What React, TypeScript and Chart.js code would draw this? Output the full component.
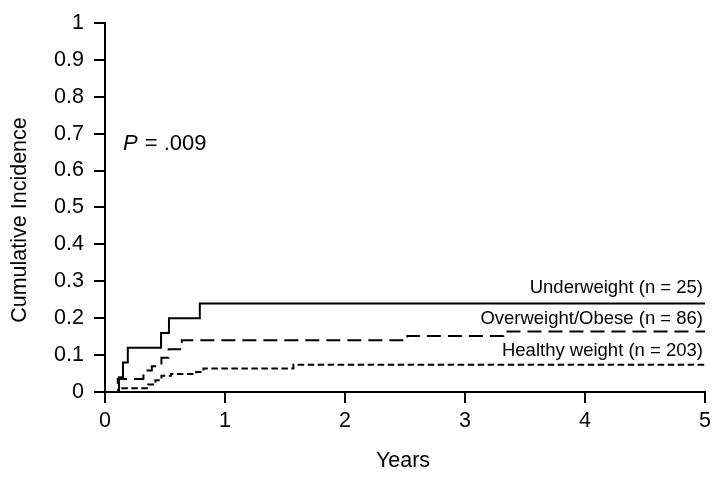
import React, { useEffect, useRef } from "react";
import { Chart, registerables } from "chart.js";

Chart.register(...registerables);

const underweightTimes = [0, 0.117, 0.15, 0.19, 0.467, 0.533, 0.79, 5];
const underweightValues = [0, 0.04, 0.08, 0.12, 0.16, 0.2, 0.24, 0.24];

const overweightTimes = [0, 0.106, 0.32, 0.39, 0.47, 0.53, 0.64, 2.52, 3.32, 5];
const overweightValues = [0, 0.035, 0.058, 0.07, 0.093, 0.116, 0.14, 0.152, 0.164, 0.164];

const healthyTimes = [0, 0.11, 0.36, 0.42, 0.47, 0.55, 0.76, 0.82, 1.57, 5];
const healthyValues = [0, 0.01, 0.02, 0.032, 0.044, 0.049, 0.054, 0.064, 0.074, 0.074];

const seriesLabels = ["Underweight (n = 25)", "Overweight/Obese (n = 86)", "Healthy weight (n = 203)"];
const xTickValues = [0, 1, 2, 3, 4, 5];
const yTickValues = [0, 0.1, 0.2, 0.3, 0.4, 0.5, 0.6, 0.7, 0.8, 0.9, 1];
const xTitle = "Years";
const yTitle = "Cumulative Incidence";
const pValueText = ".009";

const FONT = "'Liberation Sans', Arial, sans-serif";

function toPoints(xs: number[], ys: number[]) {
  return xs.map((x, i) => ({ x, y: ys[i] }));
}

const annotationPlugin = {
  id: "kmAnnotations",
  afterDraw(chart: any) {
    const ctx = chart.ctx;
    const xs = chart.scales.x;
    const ys = chart.scales.y;
    ctx.save();
    ctx.fillStyle = "#000";
    // axis titles
    ctx.font = `21.5px ${FONT}`;
    ctx.textAlign = "center";
    ctx.textBaseline = "middle";
    ctx.fillText(xTitle, (xs.left + xs.right) / 2 - 2, 461);
    ctx.save();
    ctx.translate(20, 220);
    ctx.rotate(-Math.PI / 2);
    ctx.fillText(yTitle, 0, 0);
    ctx.restore();

    // P value
    ctx.textAlign = "left";
    ctx.textBaseline = "alphabetic";
    const px = xs.getPixelForValue(0.15);
    const py = ys.getPixelForValue(0.667) + 4;
    ctx.font = `italic 22px ${FONT}`;
    ctx.fillText("P", px, py);
    const pw = ctx.measureText("P").width;
    ctx.font = `22px ${FONT}`;
    ctx.fillText(" = " + pValueText, px + pw + 1, py);

    // series labels
    ctx.font = `18.5px ${FONT}`;
    ctx.textAlign = "right";
    const rx = xs.getPixelForValue(5) - 2;
    const finals = [
      underweightValues[underweightValues.length - 1],
      overweightValues[overweightValues.length - 1],
      healthyValues[healthyValues.length - 1],
    ];
    const gaps = [10, 7, 9];
    seriesLabels.forEach((lab, i) => {
      ctx.fillText(lab, rx, ys.getPixelForValue(finals[i]) - gaps[i]);
    });
    ctx.restore();
  },
};

export default function App() {
  const canvasRef = useRef<HTMLCanvasElement | null>(null);

  useEffect(() => {
    if (!canvasRef.current) return;
    const chart = new Chart(canvasRef.current, {
      type: "line",
      data: {
        datasets: [
          {
            label: seriesLabels[0],
            data: toPoints(underweightTimes, underweightValues),
            borderColor: "#000",
            borderWidth: 2,
            stepped: "before",
            pointRadius: 0,
            fill: false,
          },
          {
            label: seriesLabels[1],
            data: toPoints(overweightTimes, overweightValues),
            borderColor: "#000",
            borderWidth: 2,
            borderDash: [14, 7],
            stepped: "before",
            pointRadius: 0,
            fill: false,
          },
          {
            label: seriesLabels[2],
            data: toPoints(healthyTimes, healthyValues),
            borderColor: "#000",
            borderWidth: 2,
            borderDash: [6.5, 3.5],
            stepped: "before",
            pointRadius: 0,
            fill: false,
          },
        ],
      },
      options: {
        animation: false,
        responsive: true,
        maintainAspectRatio: false,
        layout: { padding: { top: 17, right: 14, left: 0, bottom: 0 } },
        plugins: { legend: { display: false }, tooltip: { enabled: false } },
        scales: {
          x: {
            type: "linear",
            min: 0,
            max: 5,
            afterBuildTicks: (scale: any) => {
              scale.ticks = xTickValues.map((v) => ({ value: v }));
            },
            afterFit: (scale: any) => {
              scale.height = 88;
            },
            ticks: {
              color: "#000",
              font: { family: FONT, size: 21.5 },
              padding: 5,
              maxRotation: 0,
              callback: (v: any) => String(v),
            },
            grid: {
              display: true,
              drawOnChartArea: false,
              drawTicks: true,
              tickLength: 11,
              color: "#000",
              lineWidth: 2,
            },
            border: { display: true, color: "#000", width: 2 },
          },
          y: {
            type: "linear",
            min: 0,
            max: 1,
            afterBuildTicks: (scale: any) => {
              scale.ticks = yTickValues.map((v) => ({ value: v }));
            },
            afterFit: (scale: any) => {
              scale.width = 105;
            },
            ticks: {
              color: "#000",
              font: { family: FONT, size: 21.5 },
              padding: 10,
              callback: (v: any) => String(Number(Number(v).toFixed(1))),
            },
            grid: {
              display: true,
              drawOnChartArea: false,
              drawTicks: true,
              tickLength: 11,
              color: "#000",
              lineWidth: 2,
            },
            border: { display: true, color: "#000", width: 2 },
          },
        },
      },
      plugins: [annotationPlugin],
    } as any);
    return () => chart.destroy();
  }, []);

  return (
    <div style={{ position: "fixed", left: 0, top: 0, width: 719, height: 480, background: "#fff" }}>
      <canvas ref={canvasRef} />
    </div>
  );
}
